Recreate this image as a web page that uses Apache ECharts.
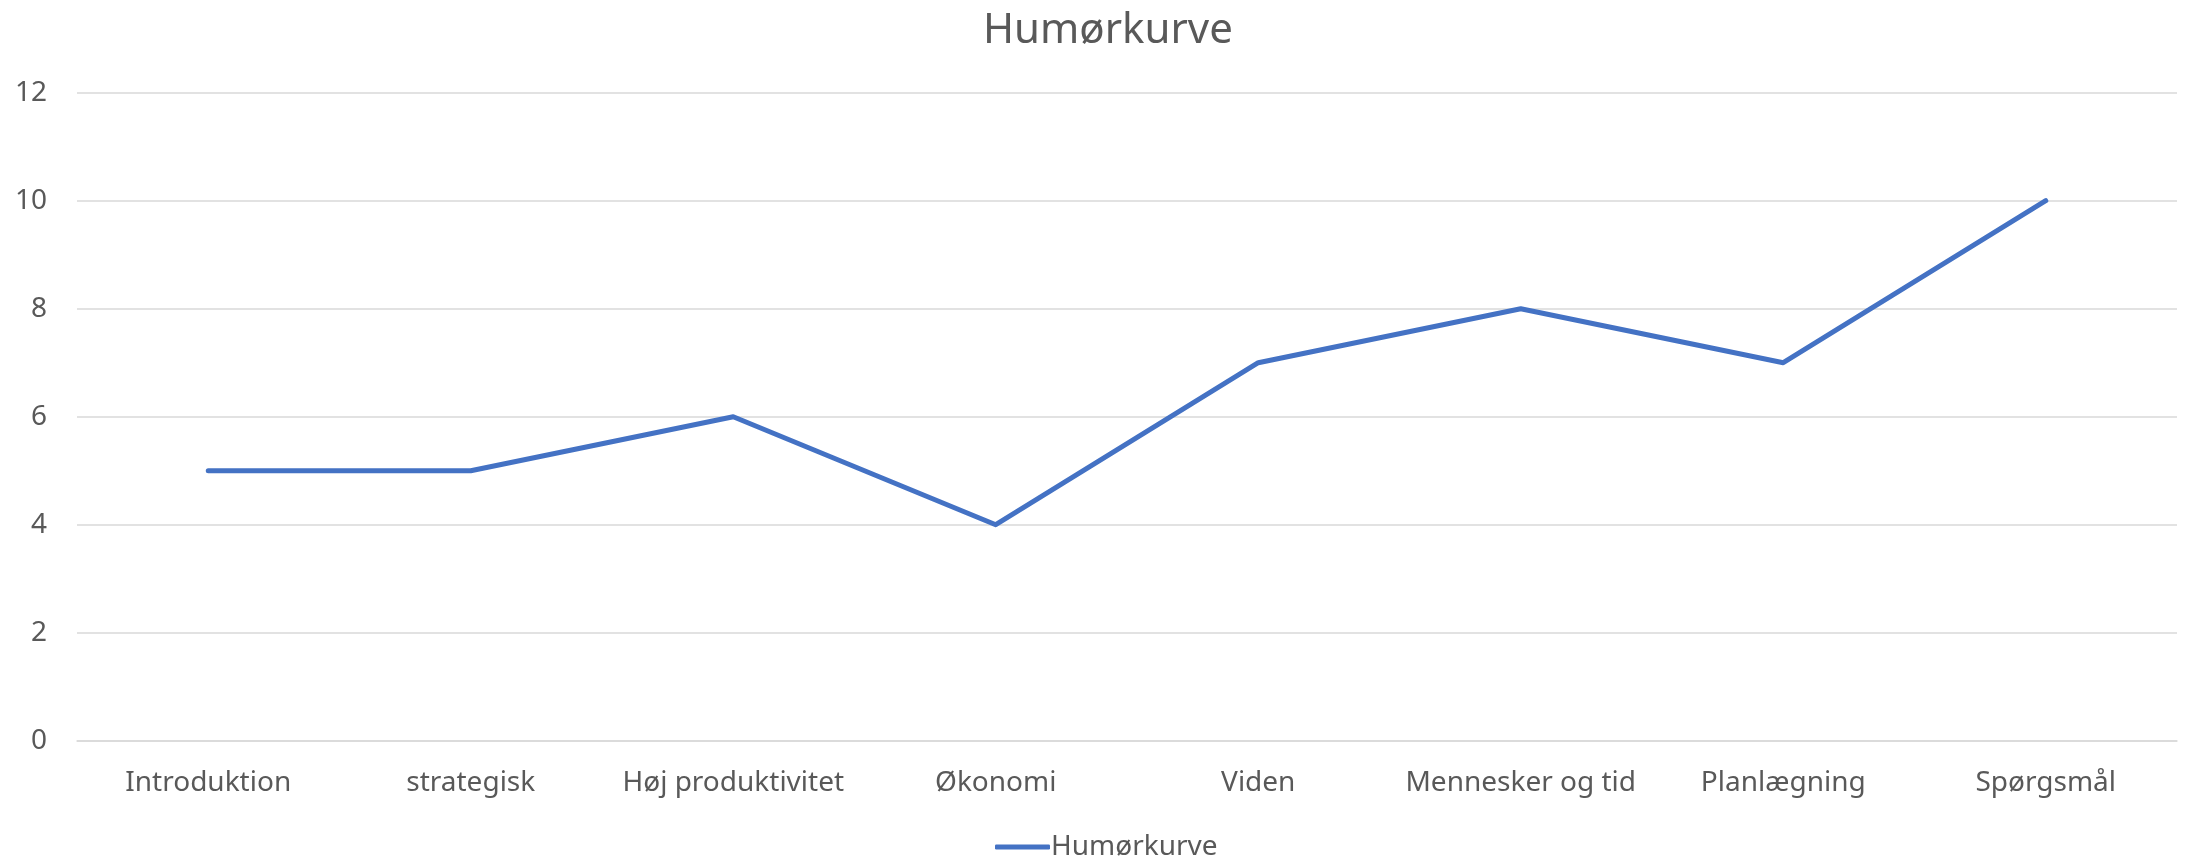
<!DOCTYPE html>
<html>
<head>
<meta charset="utf-8">
<script src="https://cdn.jsdelivr.net/npm/echarts@6/dist/echarts.min.js"></script>
<style>html,body{margin:0;padding:0;background:#fff}#c{width:2188px;height:862px}</style>
</head>
<body>
<div id="c"></div>
<script>
const categories = ["Introduktion","strategisk","Høj produktivitet","Økonomi","Viden","Mennesker og tid","Planlægning","Spørgsmål"];
const seriesName = "Humørkurve";
const values = [5,5,6,4,7,8,7,10];
const yTicks = [0,2,4,6,8,10,12];

const chart = echarts.init(document.getElementById('c'));
const font = '"Noto Sans", "Open Sans", sans-serif';
chart.setOption({
  animation: false,
  backgroundColor: '#fff',
  title: {
    text: 'Humørkurve',
    left: 978,
    top: 5,
    textStyle: {fontFamily: font, fontSize: 42, fontWeight: 'normal', color: '#595959'}
  },
  legend: {
    data: [seriesName],
    top: 828,
    left: 990,
    itemWidth: 55,
    itemHeight: 5,
    itemGap: 6,
    icon: 'roundRect',
    textStyle: {fontFamily: font, fontSize: 28, color: '#595959', padding: [0,0,0,-4]}
  },
  grid: {left: 77, right: 11, top: 92.7, bottom: 121.3, containLabel: false},
  xAxis: {
    type: 'category',
    data: categories,
    boundaryGap: true,
    axisLine: {show: true, lineStyle: {color: '#d9d9d9', width: 1.5}},
    axisTick: {show: false},
    axisLabel: {fontFamily: font, fontSize: 28, color: '#595959', margin: 28, interval: 0}
  },
  yAxis: {
    type: 'value',
    min: yTicks[0],
    max: yTicks[yTicks.length-1],
    interval: 2,
    axisLine: {show: false},
    axisTick: {show: false},
    splitLine: {lineStyle: {color: '#d9d9d9', width: 1.5}},
    axisLabel: {fontFamily: font, fontSize: 28, color: '#595959', margin: 30}
  },
  series: [{
    name: seriesName,
    type: 'line',
    data: values,
    symbol: 'none',
    lineStyle: {color: '#4472C4', width: 5, cap: 'round', join: 'round'},
    itemStyle: {color: '#4472C4'}
  }]
});
</script>
</body>
</html>
